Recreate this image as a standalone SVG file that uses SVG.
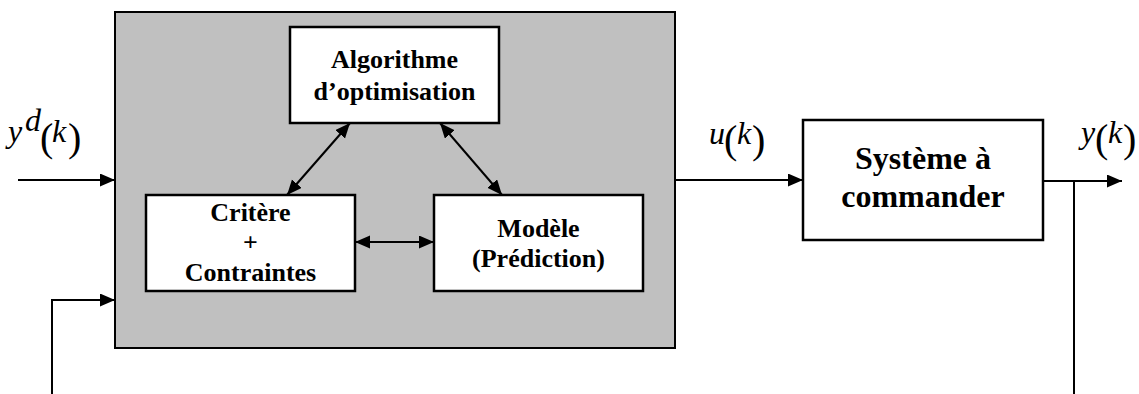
<svg xmlns="http://www.w3.org/2000/svg" width="1139" height="394" viewBox="0 0 1139 394">
<style>
.box{fill:#fff;stroke:#000;stroke-width:2.5}
.gray{fill:#c0c0c0;stroke:#000;stroke-width:2}
.lbl{font-family:"Liberation Serif","Times New Roman",serif;font-weight:bold;font-size:26px;text-anchor:middle;fill:#000}
.big{font-size:32px}
.m{font-family:"Liberation Serif","Times New Roman",serif;font-style:italic;font-size:32px;fill:#000}
.p{font-family:"Liberation Serif","Times New Roman",serif;font-size:40px;fill:#000}
.c{fill:none;stroke:#000;stroke-width:2}
</style>
<defs>
<marker id="ah" markerUnits="userSpaceOnUse" markerWidth="16" markerHeight="14" refX="15" refY="6.5" orient="auto-start-reverse">
<path d="M0,0 L15,6.5 L0,13 z" fill="#000"/>
</marker>
</defs>
<g id="controller">
<rect class="gray" x="115" y="12" width="560" height="336"/>
</g>
<g id="algo">
<rect class="box" x="290" y="27" width="209" height="96"/>
<text class="lbl" x="394.5" y="68">Algorithme</text>
<text class="lbl" x="394.5" y="100">d’optimisation</text>
</g>
<g id="critere">
<rect class="box" x="146" y="195" width="209" height="96"/>
<text class="lbl" x="250.5" y="221">Critère</text>
<text class="lbl" x="250.5" y="251">+</text>
<text class="lbl" x="250.5" y="281">Contraintes</text>
</g>
<g id="modele">
<rect class="box" x="434" y="195" width="209" height="96"/>
<text class="lbl" x="538.5" y="237">Modèle</text>
<text class="lbl" x="538.5" y="267">(Prédiction)</text>
</g>
<g id="systeme">
<rect class="box" x="803" y="120" width="240" height="120"/>
<text class="lbl big" x="923" y="169">Système à</text>
<text class="lbl big" x="923" y="207">commander</text>
</g>
<g id="labels">
<text class="m" x="8" y="142">y</text>
<text class="m" x="25" y="131" font-size="18">d</text>
<text class="p" x="40" y="151">(</text>
<text class="m" x="52" y="142">k</text>
<text class="p" x="68" y="151">)</text>
<text class="m" x="709" y="144">u</text>
<text class="p" x="724" y="153">(</text>
<text class="m" x="737" y="144">k</text>
<text class="p" x="752" y="153">)</text>
<text class="m" x="1081" y="143">y</text>
<text class="p" x="1095" y="152">(</text>
<text class="m" x="1108" y="143">k</text>
<text class="p" x="1123" y="152">)</text>
</g>
<g id="connectors">
<line class="c" x1="18" y1="180" x2="115" y2="180" marker-end="url(#ah)"/>
<polyline class="c" points="52,394 52,300 115,300" marker-end="url(#ah)"/>
<line class="c" x1="350" y1="123" x2="287" y2="195" marker-start="url(#ah)" marker-end="url(#ah)"/>
<line class="c" x1="440" y1="123" x2="502" y2="195" marker-start="url(#ah)" marker-end="url(#ah)"/>
<line class="c" x1="355" y1="242" x2="434" y2="242" marker-start="url(#ah)" marker-end="url(#ah)"/>
<line class="c" x1="675" y1="180" x2="803" y2="180" marker-end="url(#ah)"/>
<line class="c" x1="1043" y1="181" x2="1122" y2="181" marker-end="url(#ah)"/>
<line class="c" x1="1074" y1="181" x2="1074" y2="394"/>
</g>
</svg>
